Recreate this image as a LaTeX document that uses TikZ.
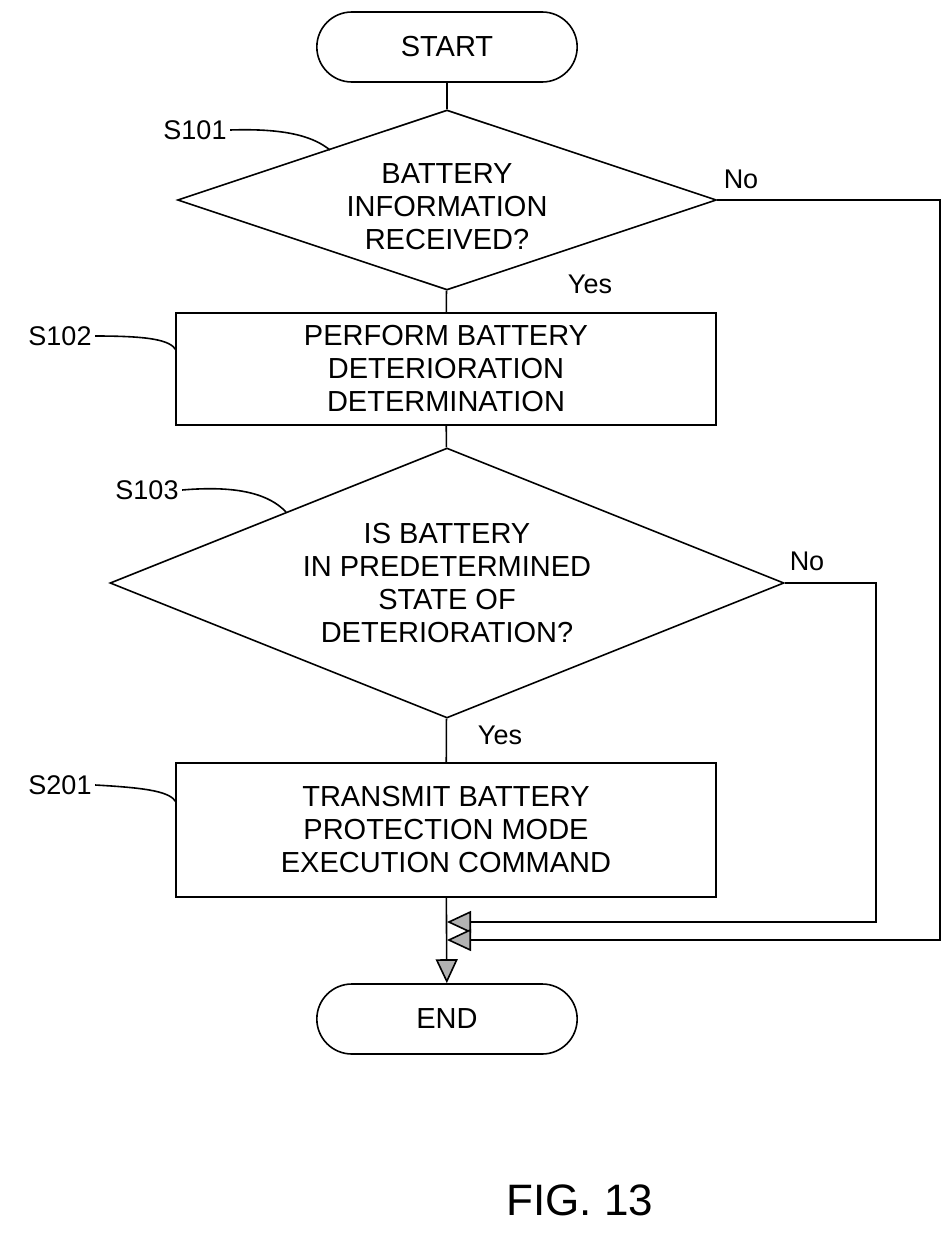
\documentclass[tikz,border=0pt]{standalone}
\usepackage{fontspec}
\setmainfont{Liberation Sans}
\usetikzlibrary{shapes.geometric,shapes.misc,arrows.meta}

\tikzset{
  flow/.style={line width=1.6pt},
  term/.style={flow, draw, rounded rectangle, minimum width=267, minimum height=70},
  proc/.style={flow, draw, rectangle, minimum width=540},
  dec/.style={flow, draw, diamond, inner sep=0pt},
  txt/.style={align=center, font=\fontsize{29}{33}\selectfont},
  lbl/.style={font=\fontsize{27}{30}\selectfont},
  tip/.style={-{Triangle[length=24, width=22, fill=gray!60]}},
}

\begin{document}
\begin{tikzpicture}[x=1pt,y=-1pt]
\useasboundingbox (0,0) rectangle (942,1245);

% terminals
\node (start) [term, txt] at (447,47) {START};
\node (end) [term, txt] at (447,1019) {END};

% decisions
\node (d1) [dec, minimum width=539, minimum height=180] at (447,200) {};
\node (d1t) [txt] at (447,207) {BATTERY\\INFORMATION\\RECEIVED?};
\node (d2) [dec, minimum width=674, minimum height=270] at (447,583) {};
\node (d2t) [txt] at (447,583) {IS BATTERY\\IN PREDETERMINED\\STATE OF\\DETERIORATION?};

% processes
\node (p1) [proc, txt, minimum height=112] at (446,369) {PERFORM BATTERY\\DETERIORATION\\DETERMINATION};
\node (p2) [proc, txt, minimum height=134] at (446,830) {TRANSMIT BATTERY\\PROTECTION MODE\\EXECUTION COMMAND};

% merge points
\coordinate (m1) at (447,922);
\coordinate (m2) at (447,940);
\coordinate (r1) at (876,583);
\coordinate (r2) at (940,200);

% main line
\draw [flow] (start) -- (d1);
\draw [flow] (d1) -- (p1);
\draw [flow] (p1) -- (d2);
\draw [flow] (d2) -- (p2);
\draw [flow, tip] (p2) -- (end);

% no branches
\draw [flow, tip] (d2.east) -- (r1) |- (m1);
\draw [flow, tip] (d1.east) -- (r2) |- (m2);

% branch labels
\node [lbl] at (741,179) {No};
\node [lbl] at (590,284) {Yes};
\node [lbl] at (807,561) {No};
\node [lbl] at (500,735) {Yes};

% step labels
\node (s101) [lbl] at (195,130) {S101};
\node (s102) [lbl] at (60,336) {S102};
\node (s103) [lbl] at (147,490) {S103};
\node (s201) [lbl] at (60,785) {S201};
\draw [flow] (s101.east) .. controls (290,128) and (315,138) .. (330,150);
\draw [flow] (s102.east) .. controls (150,336) and (170,340) .. (176,350);
\draw [flow] (s103.east) .. controls (240,485) and (270,495) .. (286,512);
\draw [flow] (s201.east) .. controls (150,788) and (170,792) .. (176,802);

% figure caption
\node (fig) [font=\fontsize{44}{48}\selectfont] at (580,1200) {FIG.\ 13};
\end{tikzpicture}
\end{document}
